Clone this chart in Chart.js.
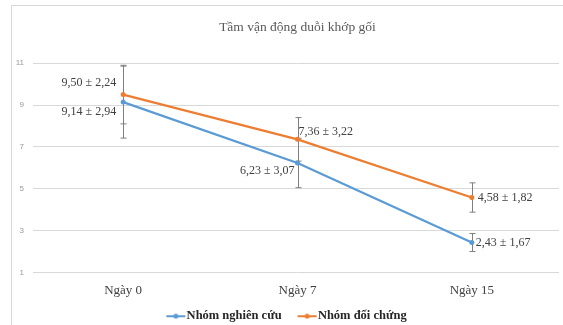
<!DOCTYPE html>
<html>
<head>
<meta charset="utf-8">
<script src="https://cdn.jsdelivr.net/npm/chart.js@4"></script>
<style>
html,body{margin:0;padding:0;background:#fff;overflow:hidden;}
#frame{position:absolute;left:11px;top:5px;width:600px;height:400px;border:1px solid #d9d9d9;}
#wrap{position:absolute;left:0;top:0;width:563px;height:325px;}
</style>
</head>
<body>
<div id="frame"></div>
<div id="wrap"><canvas id="c" width="563" height="325"></canvas></div>
<script>
const categories = ['Ngày 0', 'Ngày 7', 'Ngày 15'];
const yTicks = [1, 3, 5, 7, 9, 11];

// mean, SD shown in labels, and half-length of the drawn error bars
const meanNghienCuu = [9.14, 6.23, 2.43];
const sdNghienCuu = [2.94, 3.07, 1.67];
const errNghienCuu = [1.72, 1.18, 0.43];

const meanDoiChung = [9.50, 7.36, 4.58];
const sdDoiChung = [2.24, 3.22, 1.82];
const errDoiChung = [1.40, 1.04, 0.70];

const blue = '#5b9bd5';
const orange = '#ed7d31';

// where the value labels sit relative to their point
const labelPos = [
  [{dx:-7, dy:10, align:'right'}, {dx:-3, dy:8, align:'right'}, {dx:4, dy:0, align:'left'}],
  [{dx:-7, dy:-12, align:'right'}, {dx:1, dy:-8, align:'left'}, {dx:6, dy:0, align:'left'}]
];

const fmt = v => v.toFixed(2).replace('.', ',');

// legend marker: line with a dot, drawn at the right end of a wider image
// so it sits close to the text and leaves a gap before it
function legendMark(color){
  const c = document.createElement('canvas');
  c.width = 40; c.height = 6;
  const g = c.getContext('2d');
  g.strokeStyle = color; g.lineWidth = 2;
  g.beginPath(); g.moveTo(20, 3); g.lineTo(39, 3); g.stroke();
  g.fillStyle = color;
  g.beginPath(); g.arc(29.5, 3, 2.5, 0, Math.PI * 2); g.fill();
  return c;
}
const marks = [legendMark(blue), legendMark(orange)];

const errorBars = {
  id: 'errorBars',
  beforeDatasetsDraw(chart){
    const ctx = chart.ctx;
    const y = chart.scales.y;
    ctx.save();
    ctx.strokeStyle = '#7f7f7f';
    ctx.lineWidth = 1;
    chart.data.datasets.forEach((ds, di) => {
      const meta = chart.getDatasetMeta(di);
      meta.data.forEach((pt, i) => {
        const x = Math.round(pt.x) + 0.5;
        const top = y.getPixelForValue(ds.data[i] + ds.err[i]);
        const bot = y.getPixelForValue(ds.data[i] - ds.err[i]);
        ctx.beginPath();
        ctx.moveTo(x, top); ctx.lineTo(x, bot);
        ctx.moveTo(x - 3, top); ctx.lineTo(x + 3, top);
        ctx.moveTo(x - 3, bot); ctx.lineTo(x + 3, bot);
        ctx.stroke();
      });
    });
    ctx.restore();
  }
};

const valueLabels = {
  id: 'valueLabels',
  afterDatasetsDraw(chart){
    const ctx = chart.ctx;
    ctx.save();
    ctx.font = '12px "Liberation Serif", "Times New Roman", serif';
    ctx.fillStyle = '#404040';
    ctx.textBaseline = 'middle';
    chart.data.datasets.forEach((ds, di) => {
      const meta = chart.getDatasetMeta(di);
      meta.data.forEach((pt, i) => {
        const p = labelPos[di][i];
        ctx.textAlign = p.align;
        ctx.fillText(fmt(ds.data[i]) + ' ± ' + fmt(ds.sd[i]), pt.x + p.dx, pt.y + p.dy);
      });
    });
    ctx.restore();
  }
};

// keep the legend short so the plot keeps its height
const legendFit = {
  id: 'legendFit',
  beforeInit(chart){
    const fit = chart.legend.fit;
    chart.legend.fit = function(){
      fit.bind(chart.legend)();
      this.height = 17;
    };
  }
};

new Chart(document.getElementById('c'), {
  type: 'line',
  data: {
    labels: categories,
    datasets: [
      {
        label: 'Nhóm nghiên cứu',
        data: meanNghienCuu, sd: sdNghienCuu, err: errNghienCuu,
        borderColor: blue, backgroundColor: blue,
        borderWidth: 2.25, pointRadius: 2.5, pointBorderWidth: 0,
        pointBackgroundColor: blue, tension: 0
      },
      {
        label: 'Nhóm đối chứng',
        data: meanDoiChung, sd: sdDoiChung, err: errDoiChung,
        borderColor: orange, backgroundColor: orange,
        borderWidth: 2.25, pointRadius: 2.5, pointBorderWidth: 0,
        pointBackgroundColor: orange, tension: 0
      }
    ]
  },
  options: {
    responsive: false,
    animation: false,
    layout: { padding: { left: 0, right: 4, top: 0, bottom: 0 } },
    scales: {
      x: {
        offset: true,
        grid: { display: false, drawTicks: false },
        border: { display: false },
        ticks: {
          padding: 10,
          color: '#404040',
          font: { family: '"Liberation Serif", "Times New Roman", serif', size: 13 }
        }
      },
      y: {
        min: 1, max: 11,
        afterFit: s => { s.width = 36; },
        afterBuildTicks: s => { s.ticks = yTicks.map(v => ({ value: v })); },
        grid: { color: '#d9d9d9', tickLength: 3 },
        border: { display: false },
        ticks: {
          padding: 9,
          color: '#999999',
          font: { family: '"Liberation Sans", Arial, sans-serif', size: 8 }
        }
      }
    },
    plugins: {
      title: {
        display: true,
        fullSize: false,
        text: 'Tầm vận động duỗi khớp gối',
        color: '#595959',
        font: { family: '"Liberation Serif", "Times New Roman", serif', size: 13.5, weight: 'normal' },
        padding: { top: 19, bottom: 28 }
      },
      legend: {
        position: 'bottom',
        labels: {
          usePointStyle: true,
          pointStyleWidth: 28,
          padding: 2,
          color: '#262626',
          font: { family: '"Liberation Serif", "Times New Roman", serif', size: 12.5, weight: 'bold' },
          generateLabels(chart){
            const items = Chart.defaults.plugins.legend.labels.generateLabels(chart);
            items.forEach((it, i) => { it.pointStyle = marks[i]; });
            return items;
          }
        }
      },
      tooltip: { enabled: false }
    }
  },
  plugins: [errorBars, valueLabels, legendFit]
});
</script>
</body>
</html>
